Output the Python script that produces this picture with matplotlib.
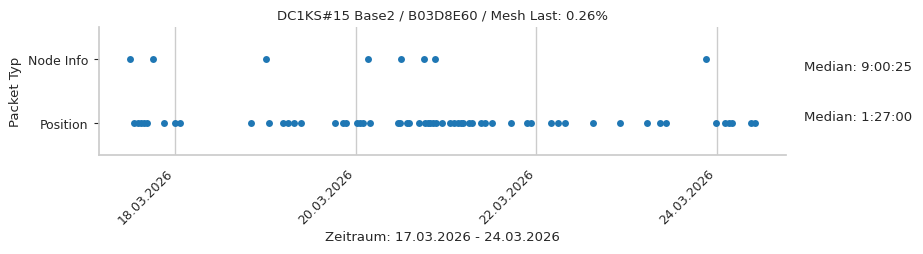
"""Packet type timeline for one mesh node."""

import matplotlib

matplotlib.use("Agg")
import matplotlib.dates as mdates
import matplotlib.pyplot as plt
import pandas as pd
from matplotlib.transforms import blended_transform_factory

title = "DC1KS#15 Base2 / B03D8E60 / Mesh Last: 0.26%"
x_label = "Zeitraum: 17.03.2026 - 24.03.2026"
y_label = "Packet Typ"
categories = ["Position", "Node Info"]
medians = ["Median: 1:27:00", "Median: 9:00:25"]
tick_dates = ["2026-03-18", "2026-03-20", "2026-03-22", "2026-03-24"]

position_times = [
    "2026-03-17 13:06", "2026-03-17 14:01", "2026-03-17 14:54", "2026-03-17 15:46",
    "2026-03-17 16:33", "2026-03-17 21:04", "2026-03-17 23:56", "2026-03-18 01:20",
    "2026-03-18 20:07", "2026-03-19 00:59", "2026-03-19 04:32", "2026-03-19 06:01",
    "2026-03-19 07:37", "2026-03-19 09:19", "2026-03-19 18:26", "2026-03-19 20:38",
    "2026-03-19 21:21", "2026-03-20 00:12", "2026-03-20 01:05", "2026-03-20 01:57",
    "2026-03-20 03:49", "2026-03-20 11:05", "2026-03-20 11:40", "2026-03-20 13:29",
    "2026-03-20 14:10", "2026-03-20 16:45", "2026-03-20 18:20", "2026-03-20 19:03",
    "2026-03-20 19:40", "2026-03-20 20:24", "2026-03-20 21:11", "2026-03-20 22:47",
    "2026-03-21 00:59", "2026-03-21 02:03", "2026-03-21 03:12", "2026-03-21 03:50",
    "2026-03-21 04:31", "2026-03-21 06:07", "2026-03-21 06:45", "2026-03-21 09:08",
    "2026-03-21 10:17", "2026-03-21 12:13", "2026-03-21 17:11", "2026-03-21 21:22",
    "2026-03-21 22:30", "2026-03-22 03:49", "2026-03-22 05:45", "2026-03-22 07:37",
    "2026-03-22 15:03", "2026-03-22 22:14", "2026-03-23 05:24", "2026-03-23 08:47",
    "2026-03-23 10:18", "2026-03-23 23:40", "2026-03-24 02:04", "2026-03-24 03:12",
    "2026-03-24 04:06", "2026-03-24 09:09", "2026-03-24 10:02",
]
node_info_times = [
    "2026-03-17 12:03", "2026-03-17 18:09", "2026-03-19 00:10", "2026-03-20 03:17",
    "2026-03-20 11:58", "2026-03-20 18:10", "2026-03-20 21:00", "2026-03-23 21:00",
]

plt.rcParams["font.family"] = "DejaVu Sans"
grid_color = "#cccccc"
text_color = "#262626"

fig = plt.figure(figsize=(9.23, 2.55), dpi=100)
ax = fig.add_axes([0.1073, 0.388, 0.7443, 0.502])

for row, times in enumerate([position_times, node_info_times]):
    ax.plot(
        pd.to_datetime(times),
        [row] * len(times),
        "o",
        color="#1f77b4",
        markersize=5,
        markeredgewidth=0,
        zorder=3,
    )

ax.set_ylim(-0.5, 1.5)
ax.set_yticks(range(len(categories)))
ax.set_yticklabels(categories)
ax.set_xticks(pd.to_datetime(tick_dates))
ax.xaxis.set_major_formatter(mdates.DateFormatter("%d.%m.%Y"))
plt.setp(ax.get_xticklabels(), rotation=45, ha="right")

ax.grid(axis="x", color=grid_color, linewidth=1)
ax.set_axisbelow(True)
for side in ["top", "right"]:
    ax.spines[side].set_visible(False)
for side in ["left", "bottom"]:
    ax.spines[side].set_color(grid_color)
    ax.spines[side].set_linewidth(1.25)
ax.tick_params(axis="x", length=0, labelsize=9, labelcolor=text_color, pad=8)
ax.tick_params(axis="y", length=3.5, color=text_color, labelsize=9,
               labelcolor=text_color, pad=4.5)

ax.set_title(title, fontsize=9.5, color=text_color)
ax.set_xlabel(x_label, fontsize=9.5, color=text_color, labelpad=3)
ax.set_ylabel(y_label, fontsize=9.5, color=text_color)

trans = blended_transform_factory(ax.transAxes, ax.transData)
for row, label in enumerate(medians):
    offset = 0.11 if row == 0 else -0.11
    ax.text(1.026, row + offset, label, transform=trans, va="center",
            fontsize=9.5, color=text_color)

fig.savefig("out.png", dpi=100)
plt.close(fig)
